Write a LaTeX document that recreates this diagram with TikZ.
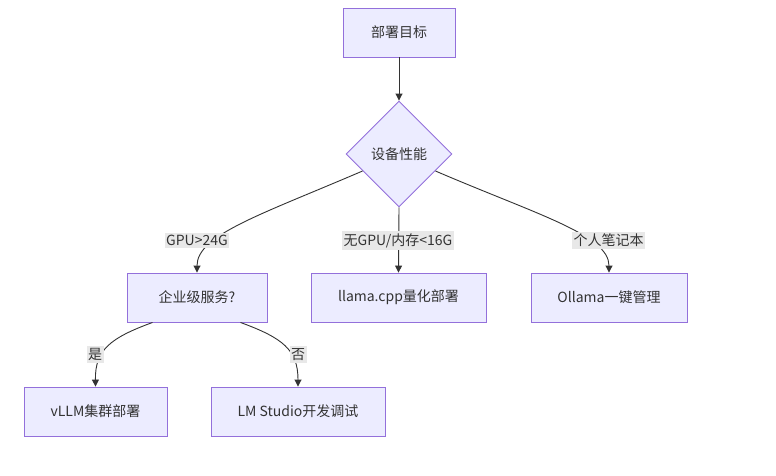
\documentclass[tikz,border=0pt]{standalone}
\usepackage{fontspec}
\setmainfont{Noto Sans CJK SC}
\usetikzlibrary{shapes.geometric,arrows.meta}
\definecolor{nodefill}{HTML}{ECECFF}
\definecolor{nodeline}{HTML}{9370DB}
\definecolor{txt}{HTML}{333333}
\definecolor{lblbg}{HTML}{E8E8E8}
\begin{document}
\begin{tikzpicture}[x=1pt,y=-1pt,
  box/.style={draw=nodeline, fill=nodefill, line width=0.9pt, text=txt,
    font=\fontsize{14}{16}\selectfont, minimum height=49pt, inner sep=0pt},
  decision/.style={diamond, aspect=1, draw=nodeline, fill=nodefill, line width=0.9pt, text=txt,
    font=\fontsize{14}{16}\selectfont, minimum width=106pt, minimum height=106pt, inner sep=0pt},
  lbl/.style={fill=lblbg, text=txt, font=\fontsize{14}{16}\selectfont, inner xsep=1.5pt, inner ysep=2pt},
  edge/.style={draw=txt, line width=0.9pt, -{Triangle[length=7pt,width=7pt]}}]
\fill[white] (0,0) rectangle (776,475);
\useasboundingbox (0,0) rectangle (776,475);

\node[box, minimum width=112pt] (goal) at (399,32.5) {部署目标};
\node[decision] (dev) at (399,154) {设备性能};
\node[box, minimum width=140pt] (ent) at (197,297.5) {企业级服务?};
\node[box, minimum width=175pt] (llama) at (398.5,297.5) {llama.cpp量化部署};
\node[box, minimum width=156pt] (oll) at (609,297.5) {Ollama一键管理};
\node[box, minimum width=143pt] (vllm) at (95.5,411.5) {vLLM集群部署};
\node[box, minimum width=174pt] (lms) at (298,411.5) {LM Studio开发调试};

\coordinate (e1) at ([xshift=26pt]ent.south west);
\coordinate (e2) at ([xshift=-27pt]ent.south east);

\draw[edge] (goal.south) -- (dev.north);
\draw[edge] (dev.south) -- (llama.north);
\draw[edge] (dev.-155) .. controls (260,215) and (197,235) .. (ent.north);
\draw[edge] (dev.-25) .. controls (538,215) and (609,235) .. (oll.north);
\draw[edge] (e1) .. controls (110,338) and (95,350) .. (vllm.north);
\draw[edge] (e2) .. controls (283,338) and (298,350) .. (lms.north);

\node[lbl] (l1) at (197,240.5) {GPU>24G};
\node[lbl] (l2) at (398,240.5) {无GPU/内存<16G};
\node[lbl] (l3) at (608.5,240.5) {个人笔记本};
\node[lbl] (l4) at (95,354.5) {是};
\node[lbl] (l5) at (298,354.5) {否};
\end{tikzpicture}
\end{document}
